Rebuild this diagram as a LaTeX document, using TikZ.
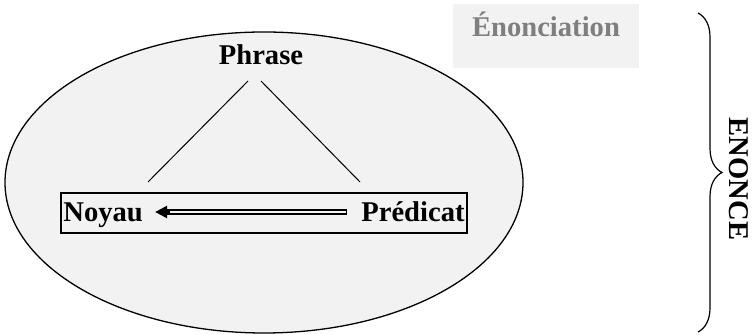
\documentclass[tikz,border=0pt]{standalone}
\usepackage{fontspec}
\setmainfont{Liberation Serif}
\usetikzlibrary{shapes.geometric,arrows.meta,decorations.pathreplacing}
\definecolor{bgg}{HTML}{F2F2F2}
\definecolor{txg}{HTML}{7F7F7F}
\begin{document}
\begin{tikzpicture}[x=0.5pt,y=-0.5pt,
  lbl/.style={font=\fontsize{14.3}{17}\selectfont\bfseries, inner sep=0pt},
  thin line/.style={line width=0.5pt}]
\useasboundingbox (0,0) rectangle (754,335);
% ellipse
\node[ellipse, draw, line width=0.65pt, fill=bgg, inner sep=0pt,
      minimum width=259pt, minimum height=150.5pt] (ell) at (264,182.5) {};
% box
\node[draw, line width=0.75pt, fill=bgg, inner sep=0pt,
      minimum width=203pt, minimum height=20pt] (box) at (264,213) {};
% texts
\node[lbl, anchor=base] (phr) at (261,65) {Phrase};
\node[lbl, anchor=base west] (noy) at (63,222) {Noyau};
\node[lbl, anchor=base east] (pred) at (465,222) {Prédicat};
% Enonciation
\node[fill=bgg, inner sep=0pt, minimum width=93pt, minimum height=32pt] (encbox) at (546,36) {};
\node[lbl, anchor=base, text=txg] (enc) at (546,37) {Énonciation};
% ENONCE
\node[lbl, rotate=-90] (enon) at (739,179) {ENONCE};
% branches
\coordinate (pl) at (248,81);
\coordinate (pr) at (261,81);
\coordinate (nl) at (148,182);
\coordinate (nr) at (360,182);
\draw[thin line] (pl) -- (nl);
\draw[thin line] (pr) -- (nr);
% double arrow
\coordinate (at) at (347,212);
\coordinate (ah) at (155,212);
\coordinate (am) at (170,212);
\draw[line width=2.7pt, -{Triangle[length=6pt,width=5.8pt]}] (at) -- (ah);
\draw[line width=1pt, bgg] ([xshift=-0.3pt]at) -- (am);
% brace
\coordinate (bt) at (698,13);
\coordinate (bb) at (698,332);
\draw[line width=0.6pt, decorate, decoration={brace, amplitude=12pt, aspect=0.5}] (bt) -- (bb);
\end{tikzpicture}
\end{document}
